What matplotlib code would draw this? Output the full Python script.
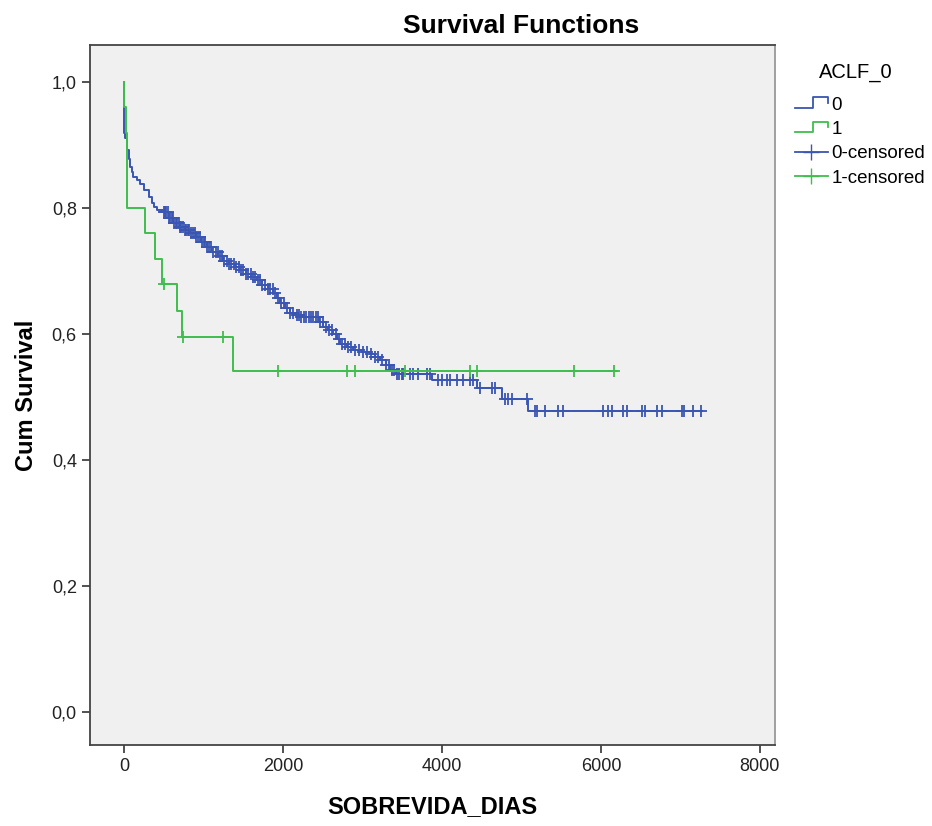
import numpy as np
import matplotlib
matplotlib.use("Agg")
import matplotlib.pyplot as plt
from matplotlib.lines import Line2D
from matplotlib.legend_handler import HandlerBase
from matplotlib.ticker import FuncFormatter

plt.rcParams['font.family'] = ['Liberation Sans', 'DejaVu Sans']

# group ACLF_0 = 0 : event times and survival after each step
blue_t = [0, 1, 10, 33, 55, 75, 100, 117, 160, 201, 243, 306, 348, 380, 411, 495,
          560, 620, 700, 760, 830, 900, 970, 1040, 1110, 1180, 1249, 1320, 1390,
          1459, 1530, 1600, 1669, 1740, 1810, 1878, 1920, 1962, 2020, 2088, 2150,
          2214, 2450, 2507, 2570, 2633, 2680, 2717, 2800, 2884, 3000, 3094, 3160,
          3220, 3290, 3346, 3420, 3870, 4437, 4751, 5085]
blue_s = [1.0, 0.92, 0.912, 0.892, 0.878, 0.866, 0.857, 0.850, 0.844, 0.839, 0.829,
          0.818, 0.808, 0.802, 0.797, 0.794, 0.785, 0.776, 0.770, 0.765, 0.760,
          0.754, 0.747, 0.739, 0.731, 0.724, 0.717, 0.712, 0.707, 0.702, 0.696,
          0.691, 0.686, 0.678, 0.671, 0.665, 0.657, 0.649, 0.641, 0.633, 0.630,
          0.628, 0.620, 0.612, 0.606, 0.601, 0.593, 0.585, 0.580, 0.575, 0.572,
          0.569, 0.564, 0.559, 0.551, 0.543, 0.537, 0.527, 0.515, 0.498, 0.478]
blue_end = 7270
blue_cens = [495, 510, 530, 545, 560, 580, 600, 615, 630, 650, 670, 690, 705, 720,
             740, 760, 780, 800, 820, 840, 860, 885, 905, 930, 950, 975, 1000, 1020,
             1045, 1070, 1095, 1120, 1150, 1175, 1200, 1230, 1260, 1290, 1320, 1350,
             1380, 1410, 1440, 1470, 1495, 1530, 1560, 1590, 1620, 1650, 1680, 1710,
             1740, 1775, 1810, 1840, 1870, 1900, 1940, 1975, 2010, 2050, 2090, 2130,
             2170, 2200, 2230, 2260, 2290, 2320, 2350, 2380, 2410, 2440, 2470, 2500,
             2540, 2580, 2620, 2660, 2700, 2740, 2780, 2820, 2860, 2900, 2950, 3010,
             3060, 3110, 3160, 3200, 3250, 3290, 3330, 3370, 3400, 3430, 3460, 3490,
             3513, 3597, 3639, 3702, 3807, 3849, 3954, 3996, 4059, 4101, 4185, 4268,
             4352, 4394, 4478, 4625, 4667, 4792, 4834, 4877, 5066, 5170, 5191, 5296,
             5463, 5526, 6029, 6092, 6134, 6281, 6323, 6512, 6553, 6700, 6763, 7015,
             7044, 7161, 7254]

# group ACLF_0 = 1
green_t = [0, 2, 21, 33, 264, 382, 482, 663, 730, 1375]
green_s = [1.0, 0.96, 0.92, 0.80, 0.76, 0.72, 0.68, 0.637, 0.595, 0.541]
green_end = 6200
green_cens = [495, 746, 1241, 1937, 2805, 2900, 3528, 4352, 4445, 5662, 6170]

BLUE = '#3a55b2'
GREEN = '#3fbe4d'


def surv_at(ts, ss, times):
    idx = np.searchsorted(ts, times, side='right') - 1
    return np.asarray(ss)[idx]


class HandlerStep(HandlerBase):
    def create_artists(self, legend, orig_handle, xdescent, ydescent,
                       width, height, fontsize, trans):
        w, h = width, height
        xs = np.array([0, 0.55, 0.55, 1.0, 1.0]) * w - xdescent
        ys = np.array([0.15, 0.15, 0.95, 0.95, 0.5]) * h - ydescent
        ln = Line2D(xs, ys, color=orig_handle.get_color(), lw=1.3)
        ln.set_transform(trans)
        return [ln]


fig = plt.figure(figsize=(9.32, 8.26), dpi=100)
ax = fig.add_axes([0.0966, 0.098, 0.7349, 0.8475])
ax.set_facecolor('#f0f0f0')

for ts, ss, end, cens, col, z in [(blue_t, blue_s, blue_end, blue_cens, BLUE, 3),
                                  (green_t, green_s, green_end, green_cens, GREEN, 4)]:
    x = list(ts) + [end]
    y = list(ss) + [ss[-1]]
    ax.step(x, y, where='post', color=col, lw=1.4, zorder=z)
    ax.plot(cens, surv_at(ts, ss, cens), ls='none', marker='+', ms=9, mew=1.3,
            color=col, zorder=z)

ax.set_xlim(-430, 8190)
ax.set_ylim(-0.052, 1.059)
ax.set_xticks([0, 2000, 4000, 6000, 8000])
ax.set_yticks([0, 0.2, 0.4, 0.6, 0.8, 1.0])
ax.yaxis.set_major_formatter(FuncFormatter(lambda v, p: f"{v:.1f}".replace('.', ',')))
ax.tick_params(direction='out', length=6, width=1.2, color='#333333',
               labelsize=13, labelcolor='#222222')
for s in ax.spines.values():
    s.set_color('#444444')
    s.set_linewidth(1.3)
ax.spines['right'].set_color('#999999')

ax.set_xlabel('SOBREVIDA_DIAS', fontsize=17, fontweight='bold', labelpad=14)
ax.set_ylabel('Cum Survival', fontsize=17, fontweight='bold', labelpad=10)
fig.text(0.559, 0.969, 'Survival Functions', fontsize=19, fontweight='bold',
         ha='center', va='center')

h0 = Line2D([], [], color=BLUE)
h1 = Line2D([], [], color=GREEN)
h2 = Line2D([], [], color=BLUE, marker='+', ms=11, lw=1.3)
h3 = Line2D([], [], color=GREEN, marker='+', ms=11, lw=1.3)
leg = fig.legend([h0, h1, h2, h3], ['0', '1', '0-censored', '1-censored'],
                 handler_map={h0: HandlerStep(), h1: HandlerStep()},
                 loc='upper left', bbox_to_anchor=(0.845, 0.924),
                 frameon=False, fontsize=13.5, title='ACLF_0',
                 title_fontsize=14.5, handlelength=1.75, handletextpad=0.2,
                 labelspacing=0.38, borderaxespad=0)
leg.get_title().set_position((-4, 8))

fig.savefig('out.png', dpi=100)
